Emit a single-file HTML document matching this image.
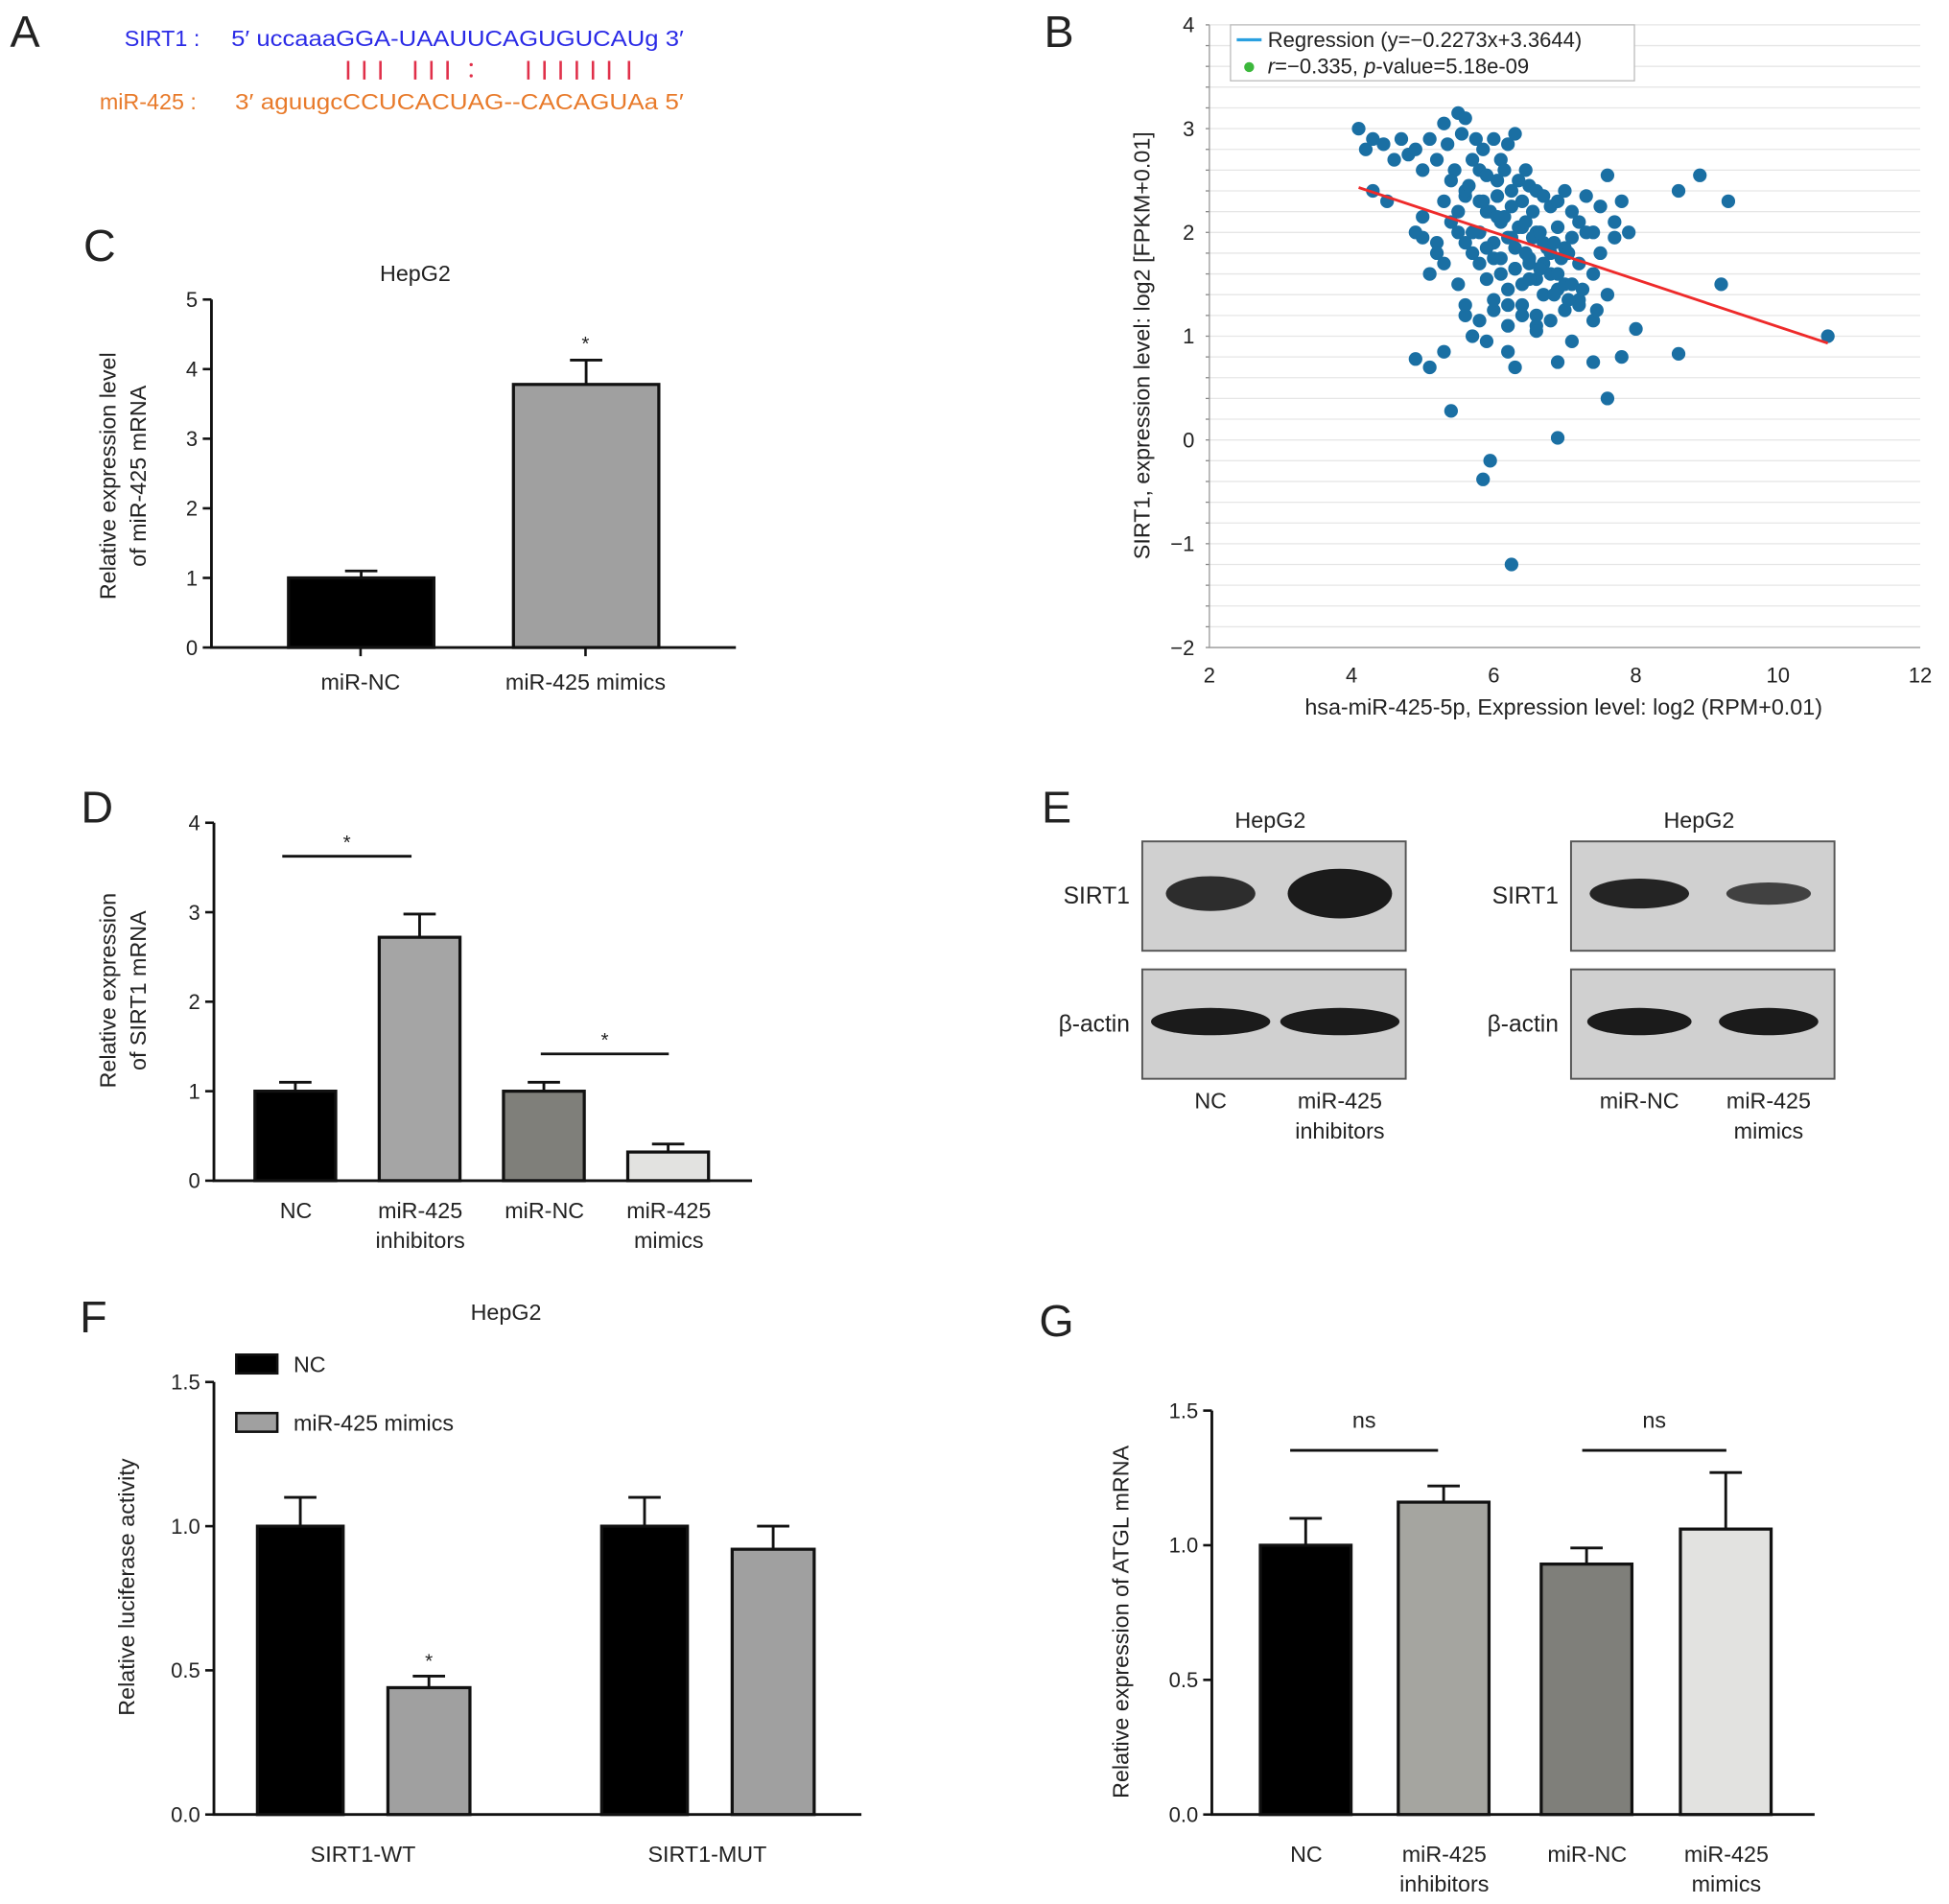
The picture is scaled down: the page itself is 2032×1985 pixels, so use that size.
<!DOCTYPE html>
<html><head><meta charset="utf-8"><style>
html,body{margin:0;padding:0;background:#fff}
svg{display:block}
text{font-family:"Liberation Sans",sans-serif;fill:#222}
</style></head><body>
<svg id="fig" xmlns="http://www.w3.org/2000/svg" width="2032" height="1985" viewBox="0 0 1568 1532">
<g id="pa">
<text x="8" y="38" font-size="36">A</text>
<text x="100" y="37" font-size="18" style="fill:#2a2ae6">SIRT1 :</text>
<text x="186" y="37" font-size="18" style="fill:#2a2ae6" textLength="364" lengthAdjust="spacingAndGlyphs">5′ uccaaaGGA-UAAUUCAGUGUCAUg 3′</text>
<g id="pairs"></g>
<text x="80" y="88" font-size="18" style="fill:#e87a2a">miR-425 :</text>
<text x="189" y="88" font-size="18" style="fill:#e87a2a" textLength="361" lengthAdjust="spacingAndGlyphs">3′ aguugcCCUCACUAG--CACAGUAa  5′</text>
</g>
<g id="pb"></g>
<g id="pc"></g>
<g id="pd"></g>
<g id="pe"></g>
<g id="pf"></g>
<g id="pg"></g>
</svg>
<script>
// ---- Panel B data ----
const scatterX=[4.1,4.2,4.3,4.45,4.6,4.7,4.8,4.9,5.0,5.1,5.2,5.3,5.35,5.45,5.5,5.55,5.6,5.7,5.75,5.8,5.85,5.9,6.0,6.05,6.1,6.15,6.2,6.25,6.3,6.35,6.4,6.45,6.5,6.55,6.6,6.7,6.8,6.9,7.0,7.1,7.2,7.3,7.4,7.5,7.6,7.7,7.8,7.9,
4.3,4.5,4.9,5.0,5.2,5.3,5.4,5.5,5.6,5.7,5.8,5.9,6.0,6.1,6.2,6.3,6.4,6.5,6.6,6.7,6.8,6.9,7.0,7.1,7.2,7.3,7.5,7.7,
5.1,5.3,5.5,5.6,5.8,5.9,6.0,6.1,6.2,6.3,6.4,6.5,6.6,6.7,6.8,6.9,7.0,7.2,7.4,7.6,
5.0,5.2,5.6,5.8,6.0,6.2,6.4,6.6,6.8,7.0,7.2,7.4,
5.4,5.6,5.8,5.95,6.05,6.15,6.25,6.35,6.45,6.55,6.65,6.75,6.85,6.95,7.05,5.5,5.7,5.9,6.1,6.3,6.5,6.7,6.9,7.1,5.65,5.85,6.05,6.25,6.45,6.65,6.85,7.05,7.25,7.45,6.0,6.2,6.4,6.6,
8.6,8.9,9.3,9.2,10.7,8.6,4.9,5.1,5.4,5.85,5.95,6.25,6.9,7.6,7.8,8.0,7.4,6.9,6.3,6.2,5.3,5.7,6.6,7.1,5.6,5.9];
const scatterY=[3.0,2.8,2.9,2.85,2.7,2.9,2.75,2.8,2.6,2.9,2.7,3.05,2.85,2.6,3.15,2.95,3.1,2.7,2.9,2.6,2.8,2.55,2.9,2.5,2.7,2.6,2.85,2.4,2.95,2.5,2.3,2.6,2.45,2.2,2.4,2.35,2.25,2.3,2.4,2.2,2.1,2.35,2.0,2.25,2.55,2.1,2.3,2.0,
2.4,2.3,2.0,2.15,1.9,2.3,2.1,2.0,2.35,1.8,2.0,2.2,1.9,2.1,1.95,1.85,2.05,1.75,2.0,1.9,1.8,2.05,1.85,1.95,1.7,2.0,1.8,1.95,
1.6,1.7,1.5,1.9,1.7,1.55,1.75,1.6,1.45,1.65,1.5,1.7,1.55,1.4,1.6,1.45,1.5,1.35,1.6,1.4,
1.95,1.8,1.3,1.15,1.25,1.1,1.3,1.2,1.15,1.25,1.3,1.15,
2.5,2.4,2.3,2.2,2.35,2.15,2.25,2.05,2.1,1.95,2.0,1.85,1.9,1.75,1.8,2.2,2.0,1.85,1.75,1.65,1.55,1.7,1.6,1.5,2.45,2.3,2.15,1.95,1.8,1.65,1.4,1.35,1.45,1.25,1.35,1.3,1.2,1.1,
2.4,2.55,2.3,1.5,1.0,0.83,0.78,0.7,0.28,-0.38,-0.2,-1.2,0.02,0.4,0.8,1.07,0.75,0.75,0.7,0.85,0.85,1.0,1.05,0.95,1.2,0.95];
const bYTicks=[-2,-1,0,1,2,3,4];
const bXTicks=[2,4,6,8,10,12];
const regSlope=-0.2273, regIntercept=3.3644, regX=[4.1,10.7];
// ---- Panel C ----
const cCats=["miR-NC","miR-425 mimics"];
const cVals=[1.0,3.78];
const cErr=[1.1,4.13];
const cTicks=[0,1,2,3,4,5];
// ---- Panel D ----
const dCats=[["NC"],["miR-425","inhibitors"],["miR-NC"],["miR-425","mimics"]];
const dVals=[1.0,2.72,1.0,0.32];
const dErr=[1.1,2.98,1.1,0.41];
const dTicks=[0,1,2,3,4];
// ---- Panel F ----
const fGroups=["SIRT1-WT","SIRT1-MUT"];
const fNC=[1.0,1.0];
const fNCErr=[1.1,1.1];
const fMim=[0.44,0.92];
const fMimErr=[0.48,1.0];
const fTicks=["0.0","0.5","1.0","1.5"];
// ---- Panel G ----
const gCats=[["NC"],["miR-425","inhibitors"],["miR-NC"],["miR-425","mimics"]];
const gVals=[1.0,1.16,0.93,1.06];
const gErr=[1.1,1.22,0.99,1.27];
const gTicks=["0.0","0.5","1.0","1.5"];

const NS="http://www.w3.org/2000/svg";
function mk(parent,tag,attrs,txt){const e=document.createElementNS(NS,tag);for(const k in attrs)e.setAttribute(k,attrs[k]);if(txt!==undefined)e.textContent=txt;parent.appendChild(e);return e;}
function lbl(p,x,y,t,size,anchor,name,extra){const e=mk(p,'text',Object.assign({x:x,y:y,'font-size':size,'text-anchor':anchor||'middle'},extra||{}),t);

return e;}

// Panel A pairing marks
(function(){const g=document.getElementById('pairs');
[280,293,306,334,347,360,425,438,451,464,477,490,506].forEach(x=>{const l=mk(g,'line',{x1:x,x2:x,y1:49,y2:64,stroke:'#e0304a','stroke-width':2});

});
[[379,52],[379,61]].forEach(p=>{const c=mk(g,'circle',{cx:p[0],cy:p[1],r:1.3,fill:'#e0304a'});

});
})();

// Panel B
(function(){
const g=document.getElementById('pb');
const x0=973,x1=1545,y0=521,y1=20;
const sx=v=>x0+(v-2)/(10)*(x1-x0), sy=v=>y0-(v+2)/6*(y0-y1);
lbl(g,852,38,"B",36,'middle','panel-label-b');
for(let v=-2;v<=4.001;v+=0.2){const l=mk(g,'line',{x1:x0,x2:x1,y1:sy(v),y2:sy(v),stroke:'#e6e6e6','stroke-width':1});


const t=mk(g,'line',{x1:x0-3,x2:x0,y1:sy(v),y2:sy(v),stroke:'#888'});

}
const ax=mk(g,'path',{d:`M${x0},${y1} V${y0} H${x1}`,stroke:'#999',fill:'none'});


bYTicks.forEach(v=>lbl(g,x0-12,sy(v)+6,v<0?"−"+(-v):String(v),17,'end','y-tick-label'));
bXTicks.forEach(v=>lbl(g,sx(v),y0+28,String(v),17,'middle','x-tick-label'));
lbl(g,925,278,"SIRT1, expression level: log2 [FPKM+0.01]",18,'middle','y-axis-title',{transform:'rotate(-90 925 278)'});
lbl(g,1258,575,"hsa-miR-425-5p, Expression level: log2 (RPM+0.01)",18,'middle','x-axis-title');
scatterX.forEach((v,i)=>{const c=mk(g,'circle',{cx:sx(v),cy:sy(scatterY[i]),r:5.5,fill:'#1a6fa3'});

});
const rl=mk(g,'line',{x1:sx(regX[0]),y1:sy(regSlope*regX[0]+regIntercept),x2:sx(regX[1]),y2:sy(regSlope*regX[1]+regIntercept),stroke:'#ee2a2a','stroke-width':2.2});


const lb=mk(g,'rect',{x:990,y:20,width:325,height:45,fill:'#fff',stroke:'#bbb'});


const ll=mk(g,'line',{x1:995,x2:1015,y1:32,y2:32,stroke:'#2aa0e0','stroke-width':2.5});


lbl(g,1020,38,"Regression (y=−0.2273x+3.3644)",17,'start','legend-regression');
const ld=mk(g,'circle',{cx:1005,cy:54,r:4,fill:'#3cb83c'});


const lt=lbl(g,1020,59,"",17,'start','legend-correlation');
lt.innerHTML='<tspan font-style="italic">r</tspan>=−0.335, <tspan font-style="italic">p</tspan>-value=5.18e-09';
})();

function barAxis(g,x0,xEnd,y0,yTop,maxV,ticks,fs){
const sy=v=>y0-v/maxV*(y0-yTop);
const a=mk(g,'path',{d:`M${x0},${yTop} V${y0} H${xEnd}`,stroke:'#111','stroke-width':2.2,fill:'none'});


ticks.forEach(t=>{const v=parseFloat(t);const l=mk(g,'line',{x1:x0-7,x2:x0,y1:sy(v),y2:sy(v),stroke:'#111','stroke-width':2});


lbl(g,x0-11,sy(v)+6,String(t),fs||17,'end','y-tick-label');});
return sy;}
function bar(g,x,w,y0,sy,v,e,fill,name){
const r=mk(g,'rect',{x:x,y:sy(v),width:w,height:y0-sy(v),fill:fill,stroke:'#111','stroke-width':2.5});


const eb=mk(g,'path',{d:`M${x+w/2},${sy(v)} V${sy(e)} M${x+w/2-13},${sy(e)} H${x+w/2+13}`,stroke:'#111','stroke-width':2.2,fill:'none'});

}

// Panel C
(function(){const g=document.getElementById('pc');
lbl(g,80,210,"C",36,'middle','panel-label-c');
lbl(g,334,226,"HepG2",18,'middle','chart-title');
const y0=521,sy=barAxis(g,170,592,y0,241,5,cTicks);
const xs=[232,413],cols=['#000','#a0a0a0'];
cVals.forEach((v,i)=>{bar(g,xs[i],117,y0,sy,v,cErr[i],cols[i],'bar-'+i);
const t=mk(g,'line',{x1:xs[i]+58,x2:xs[i]+58,y1:y0,y2:y0+7,stroke:'#111','stroke-width':2});


lbl(g,xs[i]+58,y0+34,cCats[i],18,'middle','x-tick-label');});
lbl(g,471,sy(cErr[1])-8,"*",16,'middle','significance-star');
lbl(g,93,383,"Relative expression level",18,'middle','y-axis-title',{transform:'rotate(-90 93 383)'});
lbl(g,117,383,"of miR-425 mRNA",18,'middle','y-axis-title-2',{transform:'rotate(-90 117 383)'});
})();

// Panel D
(function(){const g=document.getElementById('pd');
lbl(g,78,662,"D",36,'middle','panel-label-d');
const y0=950,sy=barAxis(g,172,605,y0,662,4,dTicks);
const xs=[205,305,405,505],cols=['#000','#a5a5a5','#7f7f7a','#e2e2e0'];
dVals.forEach((v,i)=>{bar(g,xs[i],65,y0,sy,v,dErr[i],cols[i],'bar-'+i);
dCats[i].forEach((s,j)=>lbl(g,xs[i]+33,y0+30+j*24,s,18,'middle','x-tick-label'));});
[[227,331,689],[435,538,848]].forEach(s=>{const l=mk(g,'line',{x1:s[0],x2:s[1],y1:s[2],y2:s[2],stroke:'#111','stroke-width':2.2});


lbl(g,(s[0]+s[1])/2,s[2]-6,"*",16,'middle','significance-star');});
lbl(g,93,797,"Relative expression",18,'middle','y-axis-title',{transform:'rotate(-90 93 797)'});
lbl(g,117,797,"of SIRT1 mRNA",18,'middle','y-axis-title-2',{transform:'rotate(-90 117 797)'});
})();

// Panel E
(function(){const g=document.getElementById('pe');
lbl(g,850,662,"E",36,'middle','panel-label-e');
function blot(bx,title,labs,bandW1,bandW2){
lbl(g,bx+103,666,title,18,'middle','blot-title');
[[677,"SIRT1",bandW1,'sirt1'],[780,"β-actin",bandW2,'actin']].forEach(r=>{
const b=mk(g,'rect',{x:bx,y:r[0],width:212,height:88,fill:'#d0d0d0',stroke:'#555','stroke-width':1.5});


r[2].forEach((bw,k)=>{const e=mk(g,'ellipse',{cx:bx+55+k*104,cy:r[0]+42,rx:bw[0],ry:bw[1],fill:'#111',opacity:bw[2]});

});
lbl(g,bx-10,r[0]+50,r[1],19,'end','blot-row-label',{'font-family':r[3]=='actin'?'Liberation Serif':'Liberation Sans'});});
labs.forEach((s,k)=>s.forEach((t,j)=>lbl(g,bx+55+k*104,892+j*24,t,18,'middle','lane-label')));}
blot(919,"HepG2",[["NC"],["miR-425","inhibitors"]],[[36,14,0.85],[42,20,0.95]],[[48,11,0.95],[48,11,0.95]]);
blot(1264,"HepG2",[["miR-NC"],["miR-425","mimics"]],[[40,12,0.9],[34,9,0.75]],[[42,11,0.95],[40,11,0.95]]);
})();

// Panel F
(function(){const g=document.getElementById('pf');
lbl(g,75,1072,"F",36,'middle','panel-label-f');
lbl(g,407,1062,"HepG2",18,'middle','chart-title');
const y0=1460,sy=barAxis(g,172,693,y0,1112,1.5,fTicks);
const gx=[207,484];
fGroups.forEach((n,i)=>{bar(g,gx[i],69,y0,sy,fNC[i],fNCErr[i],'#000','bar-nc-'+i);
bar(g,gx[i]+105,66,y0,sy,fMim[i],fMimErr[i],'#a0a0a0','bar-mimics-'+i);
lbl(g,gx[i]+85,y0+38,n,18,'middle','x-tick-label');});
lbl(g,345,sy(fMimErr[0])-7,"*",16,'middle','significance-star');
[[1090,'#000',"NC"],[1137,'#a0a0a0',"miR-425 mimics"]].forEach(l=>{const r=mk(g,'rect',{x:190,y:l[0],width:33,height:15,fill:l[1],stroke:'#111','stroke-width':2});


lbl(g,236,l[0]+14,l[2],18,'start','legend-label');});
lbl(g,108,1277,"Relative luciferase activity",18,'middle','y-axis-title',{transform:'rotate(-90 108 1277)'});
})();

// Panel G
(function(){const g=document.getElementById('pg');
lbl(g,850,1075,"G",36,'middle','panel-label-g');
const y0=1460,sy=barAxis(g,975,1460,y0,1135,1.5,gTicks);
const xs=[1014,1125,1240,1352],cols=['#000','#a5a5a0','#7f7f7a','#e2e2e0'];
gVals.forEach((v,i)=>{bar(g,xs[i],73,y0,sy,v,gErr[i],cols[i],'bar-'+i);
gCats[i].forEach((s,j)=>lbl(g,xs[i]+37,y0+38+j*24,s,18,'middle','x-tick-label'));});
[[1038,1157,1167],[1273,1389,1167]].forEach(s=>{const l=mk(g,'line',{x1:s[0],x2:s[1],y1:s[2],y2:s[2],stroke:'#111','stroke-width':2.2});


lbl(g,(s[0]+s[1])/2,s[2]-18,"ns",18,'middle','ns-label');});
lbl(g,908,1305,"Relative expression of ATGL mRNA",18,'middle','y-axis-title',{transform:'rotate(-90 908 1305)'});
})();
</script>
</body></html>
